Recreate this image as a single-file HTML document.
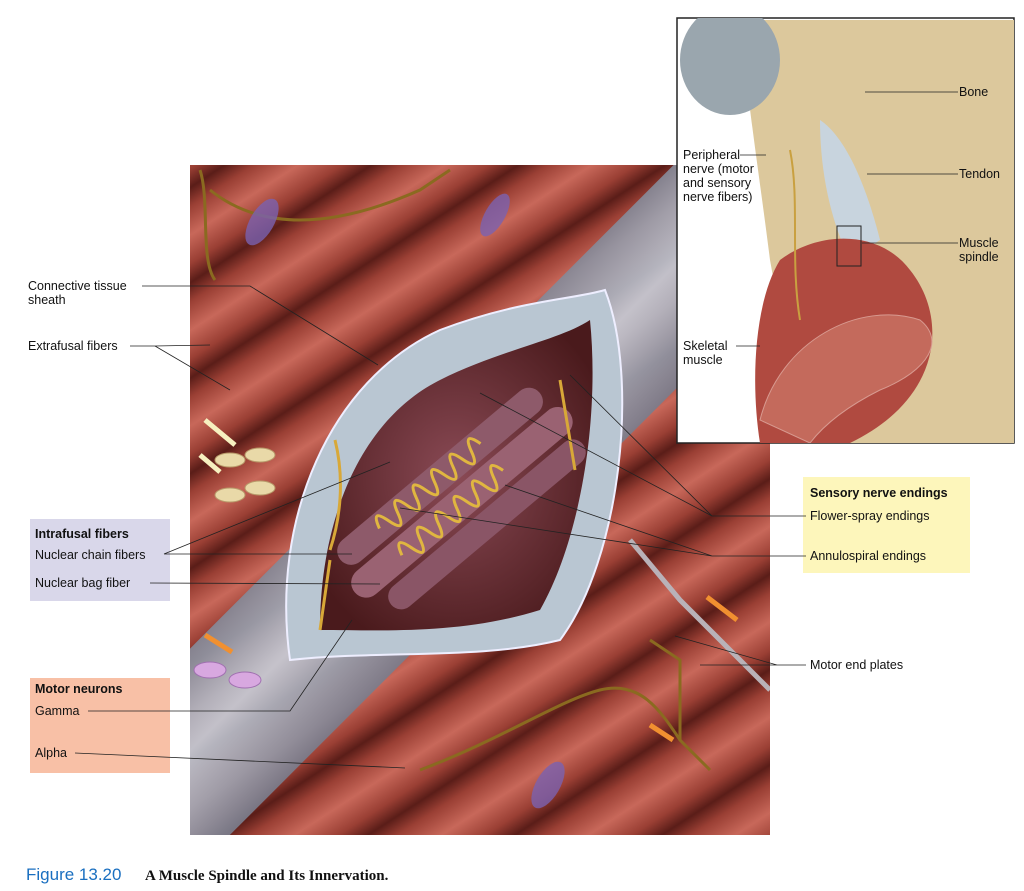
<!DOCTYPE html>
<html><head><meta charset="utf-8"><style>
html,body{margin:0;padding:0;background:#fff;width:1024px;height:891px;overflow:hidden}
svg{display:block}
text{font-family:"Liberation Sans",Arial,sans-serif;font-size:12.5px;fill:#111}
</style></head><body>
<svg width="1024" height="891" viewBox="0 0 1024 891" xmlns="http://www.w3.org/2000/svg">
<defs>
<clipPath id="main"><rect x="190" y="165" width="580" height="670"/></clipPath>
<clipPath id="ins"><rect x="677" y="18" width="337" height="425"/></clipPath>
<linearGradient id="fib" x1="0" y1="0" x2="0" y2="1">
<stop offset="0" stop-color="#5a1d18"/><stop offset="0.2" stop-color="#9a3f34"/><stop offset="0.5" stop-color="#c8685a"/><stop offset="0.8" stop-color="#9a3f34"/><stop offset="1" stop-color="#5a1d18"/></linearGradient>
<pattern id="fp" width="2000" height="80" patternUnits="userSpaceOnUse"><rect width="2000" height="80" fill="url(#fib)"/></pattern>
<linearGradient id="sh" x1="0" y1="0" x2="0" y2="1"><stop offset="0" stop-color="#858896"/><stop offset="0.45" stop-color="#c6cad4"/><stop offset="1" stop-color="#7a7c8b"/></linearGradient>
<radialGradient id="cav" cx="0.5" cy="0.5" r="0.6"><stop offset="0" stop-color="#8a4a55"/><stop offset="1" stop-color="#4a1a1c"/></radialGradient>
</defs>

<g clip-path="url(#main)">
<rect x="190" y="165" width="580" height="670" fill="#9a3d33"/>
<g transform="rotate(-33 480 500)"><rect x="-300" y="-300" width="1600" height="1600" fill="url(#fp)"/></g>
<g transform="rotate(-45 480 500)"><rect x="-200" y="400" width="1400" height="160" fill="url(#sh)" opacity="0.93"/></g>
<path d="M290 660 C270 520 330 380 440 330 C520 300 570 300 605 290 C640 380 620 560 560 640 C480 660 380 650 290 660 Z" fill="#b9c6d2" stroke="#eef" stroke-width="2"/>
<path d="M320 630 C320 520 360 420 440 380 C500 350 560 340 590 320 C600 420 580 540 540 610 C460 635 380 630 320 630 Z" fill="url(#cav)"/>
<g transform="rotate(-40 460 500)">
<rect x="330" y="455" width="260" height="28" rx="14" fill="#8e5a6a"/>
<rect x="320" y="488" width="280" height="30" rx="15" fill="#9a6272"/>
<rect x="340" y="523" width="250" height="26" rx="13" fill="#8a5566"/>
<g fill="none" stroke="#e0b640" stroke-width="3">
<path d="M380 470 q6 -22 12 0 q6 22 12 0 q6 -22 12 0 q6 22 12 0 q6 -22 12 0 q6 22 12 0 q6 -22 12 0 q6 22 12 0 q6 -22 12 0 q6 22 12 0 q6 -22 12 0"/>
<path d="M380 505 q6 -22 12 0 q6 22 12 0 q6 -22 12 0 q6 22 12 0 q6 -22 12 0 q6 22 12 0 q6 -22 12 0 q6 22 12 0 q6 -22 12 0 q6 22 12 0 q6 -22 12 0"/>
</g></g>
<path d="M320 630 L330 560 M335 440 C345 480 340 520 330 550 M560 380 L575 470" stroke="#d8a838" stroke-width="3" fill="none"/>
<g stroke="#8a6a20" stroke-width="3" fill="none">
<path d="M200 170 C210 200 200 260 215 280 M210 190 C260 230 330 230 420 190 L450 170"/>
<path d="M420 770 C500 740 560 700 600 690 C640 680 660 710 680 740 L710 770 M680 740 L680 660 L650 640"/>
</g>
<g stroke="#b9b2b8" stroke-width="5" fill="none"><path d="M630 540 L680 600 L720 640 L770 690"/></g>
<ellipse cx="262" cy="222" rx="12" ry="26" transform="rotate(30 262 222)" fill="#7a62b0" opacity=".8"/>
<ellipse cx="495" cy="215" rx="10" ry="24" transform="rotate(30 495 215)" fill="#7a62b0" opacity=".8"/>
<ellipse cx="548" cy="785" rx="12" ry="26" transform="rotate(30 548 785)" fill="#7a62b0" opacity=".8"/>
<g fill="#e9d9a8" stroke="#b89a6a"><ellipse cx="230" cy="460" rx="15" ry="7"/><ellipse cx="260" cy="455" rx="15" ry="7"/><ellipse cx="230" cy="495" rx="15" ry="7"/><ellipse cx="260" cy="488" rx="15" ry="7"/></g>
<g fill="#d8a8e0" stroke="#a070b0"><ellipse cx="210" cy="670" rx="16" ry="8"/><ellipse cx="245" cy="680" rx="16" ry="8"/></g>
<path d="M205 420 L235 445 M200 455 L220 472" stroke="#f7f0c0" stroke-width="5"/>
<path d="M205 635 L232 652 M707 597 L737 620" stroke="#f19030" stroke-width="5"/>
<path d="M673 740 L650 725" stroke="#f19030" stroke-width="5"/>
</g>

<rect x="677" y="18" width="337" height="425" fill="#fff" stroke="#222" stroke-width="1.5"/>
<g clip-path="url(#ins)">
<path d="M740 20 L1014 20 L1014 443 L830 443 C800 380 780 320 770 260 C760 180 750 120 740 20 Z" fill="#dcc89c"/>
<ellipse cx="730" cy="60" rx="50" ry="55" fill="#9aa6ae"/>
<path d="M820 120 C850 140 870 200 880 240 L850 260 C830 220 820 170 820 120Z" fill="#c8d4de"/>
<path d="M780 260 C820 230 880 230 910 270 C950 320 940 400 850 443 L760 443 C750 380 755 300 780 260 Z" fill="#b04a40"/>
<path d="M760 420 C780 340 860 300 920 320 C945 340 930 370 880 390 C840 410 820 430 810 443 Z" fill="#c46a5c" stroke="#d89a90"/>
<rect x="837" y="226" width="24" height="40" fill="none" stroke="#222"/>
<path d="M790 150 C800 200 790 260 800 320" stroke="#c9a040" stroke-width="2" fill="none"/>
</g>

<rect x="30" y="519" width="140" height="82" fill="#d9d7ea"/>
<rect x="30" y="678" width="140" height="95" fill="#f8c0a6"/>
<rect x="803" y="477" width="167" height="96" fill="#fdf6bb"/>

<g stroke="#222" stroke-width="0.8" fill="none">
<path d="M142 286 L250 286 L378 365"/>
<path d="M130 346 L155 346 L210 345 M155 346 L230 390"/>
<path d="M164 554 L390 462 M164 554 L352 554 M150 583 L380 584"/>
<path d="M88 711 L290 711 L352 620"/>
<path d="M75 753 L405 768"/>
<path d="M806 516 L712 516 L570 375 M712 516 L480 393"/>
<path d="M806 556 L712 556 L505 485 M712 556 L400 508"/>
<path d="M806 665 L777 665 L675 636 M777 665 L700 665"/>
<path d="M958 92 L865 92 M958 174 L867 174 M958 243 L862 243 M740 155 L766 155 M736 346 L760 346"/>
</g>

<text x="28" y="290">Connective tissue</text><text x="28" y="304">sheath</text>
<text x="28" y="350">Extrafusal fibers</text>
<text x="35" y="538" font-weight="bold">Intrafusal fibers</text>
<text x="35" y="559">Nuclear chain fibers</text>
<text x="35" y="587">Nuclear bag fiber</text>
<text x="35" y="693" font-weight="bold">Motor neurons</text>
<text x="35" y="715">Gamma</text>
<text x="35" y="757">Alpha</text>
<text x="810" y="497" font-weight="bold">Sensory nerve endings</text>
<text x="810" y="520">Flower-spray endings</text>
<text x="810" y="560">Annulospiral endings</text>
<text x="810" y="669">Motor end plates</text>
<text x="959" y="96">Bone</text>
<text x="959" y="178">Tendon</text>
<text x="959" y="247">Muscle</text><text x="959" y="261">spindle</text>
<text x="683" y="159">Peripheral</text><text x="683" y="173">nerve (motor</text><text x="683" y="187">and sensory</text><text x="683" y="201">nerve fibers)</text>
<text x="683" y="350">Skeletal</text><text x="683" y="364">muscle</text>

<text x="26" y="880" style="font-size:17px;fill:#1a6fc0">Figure 13.20</text>
<text x="145" y="880" style="font-family:'Liberation Serif',serif;font-size:15px;font-weight:bold">A Muscle Spindle and Its Innervation.</text>
</svg>
</body></html>
